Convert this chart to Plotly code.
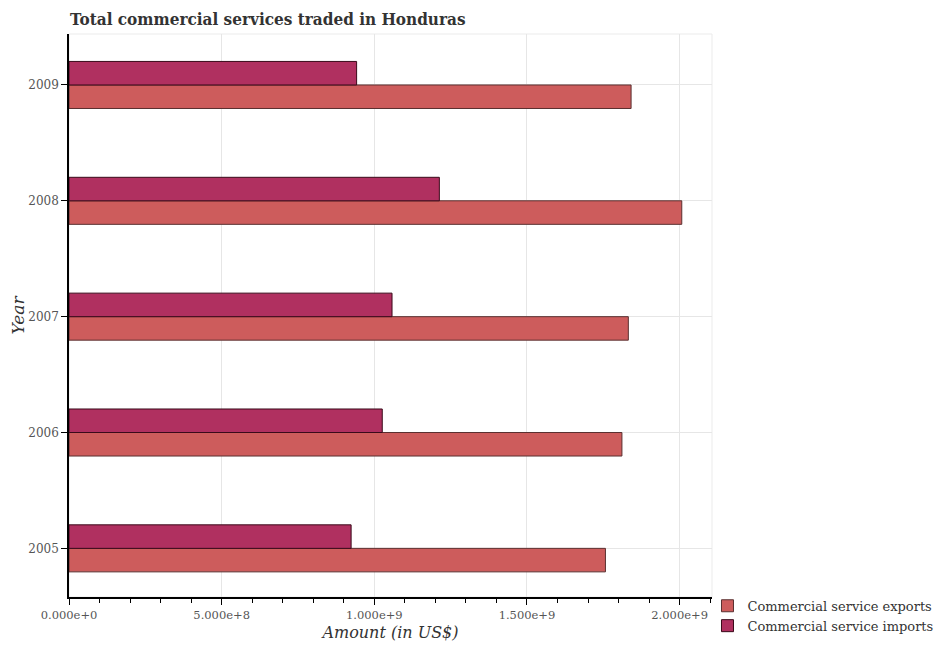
import plotly.graph_objects as go

years = ["2005", "2006", "2007", "2008", "2009"]
exports = [1.757e9, 1.811e9, 1.832e9, 2.007e9, 1.841e9]
imports = [9.24e8, 1.026e9, 1.058e9, 1.213e9, 9.42e8]

serif = "DejaVu Serif"

fig = go.Figure()
fig.add_trace(go.Bar(
    y=years, x=exports, orientation="h", name="Commercial service exports",
    marker=dict(color="#cd5c5c", line=dict(color="#5a3030", width=1)),
))
fig.add_trace(go.Bar(
    y=years, x=imports, orientation="h", name="Commercial service imports",
    marker=dict(color="#b03060", line=dict(color="#3a0a1a", width=1)),
))

fig.update_layout(
    width=926, height=634,
    margin=dict(l=61, r=222, t=26, b=45, autoexpand=False),
    paper_bgcolor="white", plot_bgcolor="white",
    barmode="group", bargap=0.594, bargroupgap=0,
    title=dict(text="<b>Total commercial services traded in Honduras</b>",
               font=dict(family="DejaVu Serif Condensed", size=17, color="#333333"),
               x=0.067, xanchor="left", y=0.983, yanchor="middle"),
    legend=dict(x=0.993, xanchor="left", y=0.011, yanchor="top",
                font=dict(family=serif, size=13, color="#333333"),
                tracegroupgap=4, bgcolor="rgba(0,0,0,0)"),
    xaxis=dict(
        range=[0, 2.106e9], tickformat=".3e", dtick=5e8, tick0=0,
        showgrid=True, gridcolor="#e6e6e6", gridwidth=1,
        showline=True, linecolor="black", linewidth=1.5,
        ticks="outside", ticklen=6, tickcolor="black",
        minor=dict(dtick=1e8, ticks="outside", ticklen=4, tickcolor="black", showgrid=False),
        tickfont=dict(family=serif, size=11.5, color="#555555"),
        title=dict(text="Amount (in US$)", font=dict(family=serif, size=16, color="#333333", style="italic"), standoff=8),
        zeroline=False,
    ),
    yaxis=dict(
        type="category", categoryorder="array", categoryarray=years,
        range=[-0.42, 4.44],
        showgrid=True, gridcolor="#e6e6e6", gridwidth=1,
        showline=True, linecolor="black", linewidth=1.5,
        ticks="outside", ticklen=6, tickcolor="black",
        tickfont=dict(family=serif, size=12, color="#555555"),
        title=dict(text="Year", font=dict(family=serif, size=17, color="#333333", style="italic"), standoff=8),
    ),
    shapes=[dict(type="rect", xref="x domain", yref="y domain", x0=0, x1=1, y0=0, y1=1,
                 line=dict(color="#ebebeb", width=1), layer="below")],
)

fig.write_html("out.html")
